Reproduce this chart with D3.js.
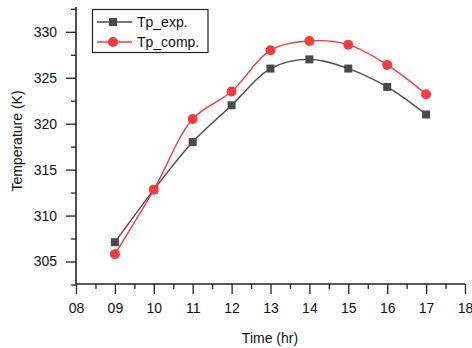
<!DOCTYPE html>
<html><head><meta charset="utf-8">
<script src="https://cdn.jsdelivr.net/npm/d3@7/dist/d3.min.js"></script>
<style>body{margin:0;background:#fff}svg{display:block}text{font-family:Arial,"Liberation Sans",sans-serif}</style>
</head><body><svg id="c" width="472" height="348"></svg>
<script>
const hours = [9,10,11,12,13,14,15,16,17];
const tpExp = [307.1,312.8,318,322,326,327,326,324,321];
const tpComp = [305.8,312.8,320.5,323.5,328,329,328.6,326.4,323.2];
const xTickLabels = ["08","09","10","11","12","13","14","15","16","17","18"];
const yTicks = [305,310,315,320,325,330];

const svg = d3.select("#c");
const x = d3.scaleLinear().domain([8,18]).range([76,465]);
const y = d3.scaleLinear().domain([302.55,332.7]).range([284,7]);

// axes
const xAx = svg.append("g").attr("transform","translate(0,284)")
  .call(d3.axisBottom(x).tickValues(d3.range(8,18.01,1)).tickFormat((d,i)=>xTickLabels[i]).tickSize(10).tickPadding(9));
svg.append("g").attr("transform","translate(0,284)")
  .call(d3.axisBottom(x).tickValues(d3.range(8.5,18,1)).tickFormat("").tickSize(5))
  .select(".domain").remove();
const yAx = svg.append("g").attr("transform","translate(76,0)")
  .call(d3.axisLeft(y).tickValues(yTicks).tickSize(10).tickPadding(9));
svg.append("g").attr("transform","translate(76,0)")
  .call(d3.axisLeft(y).tickValues([302.5,307.5,312.5,317.5,322.5,327.5,332.5]).tickFormat("").tickSize(5))
  .select(".domain").remove();
svg.selectAll(".domain").attr("stroke","#222").attr("stroke-width",1.6);
svg.selectAll(".tick line").attr("stroke","#222").attr("stroke-width",1.3);
svg.selectAll(".tick text").attr("font-size",14).attr("fill","#111");
xAx.select(".domain").attr("d","M76,0H465");
yAx.select(".domain").attr("d","M0,284V7");

svg.append("text").attr("x",270).attr("y",343).attr("text-anchor","middle").attr("font-size",14).attr("fill","#111").text("Time (hr)");
svg.append("text").attr("transform","translate(22,141) rotate(-90)").attr("text-anchor","middle").attr("font-size",14).attr("fill","#111").text("Temperature (K)");

const line = d3.line().x((d,i)=>x(hours[i])).y(d=>y(d)).curve(d3.curveCatmullRom.alpha(0.5));
const gray = "#4a4a4a", red = "#f03c3c";
svg.append("path").attr("d",line(tpExp)).attr("fill","none").attr("stroke",gray).attr("stroke-width",1.4);
svg.append("path").attr("d",line(tpComp)).attr("fill","none").attr("stroke",red).attr("stroke-width",1.4);
svg.selectAll(".sq").data(tpExp).enter().append("rect")
  .attr("x",(d,i)=>x(hours[i])-4).attr("y",d=>y(d)-4).attr("width",8).attr("height",8).attr("fill",gray);
svg.selectAll(".ci").data(tpComp).enter().append("circle")
  .attr("cx",(d,i)=>x(hours[i])).attr("cy",d=>y(d)).attr("r",5).attr("fill",red);

// legend
const lg = svg.append("g");
lg.append("rect").attr("x",92.5).attr("y",9.5).attr("width",115.5).attr("height",43).attr("fill","#fff").attr("stroke","#222").attr("stroke-width",1.2);
lg.append("line").attr("x1",97).attr("x2",132).attr("y1",22).attr("y2",22).attr("stroke",gray).attr("stroke-width",1.4);
lg.append("rect").attr("x",109).attr("y",18).attr("width",8).attr("height",8).attr("fill",gray);
lg.append("text").attr("x",137).attr("y",27).attr("font-size",14).attr("fill","#111").text("Tp_exp.");
lg.append("line").attr("x1",97).attr("x2",132).attr("y1",42).attr("y2",42).attr("stroke",red).attr("stroke-width",1.4);
lg.append("circle").attr("cx",113).attr("cy",42).attr("r",5).attr("fill",red);
lg.append("text").attr("x",137).attr("y",47).attr("font-size",14).attr("fill","#111").text("Tp_comp.");
</script></body></html>
